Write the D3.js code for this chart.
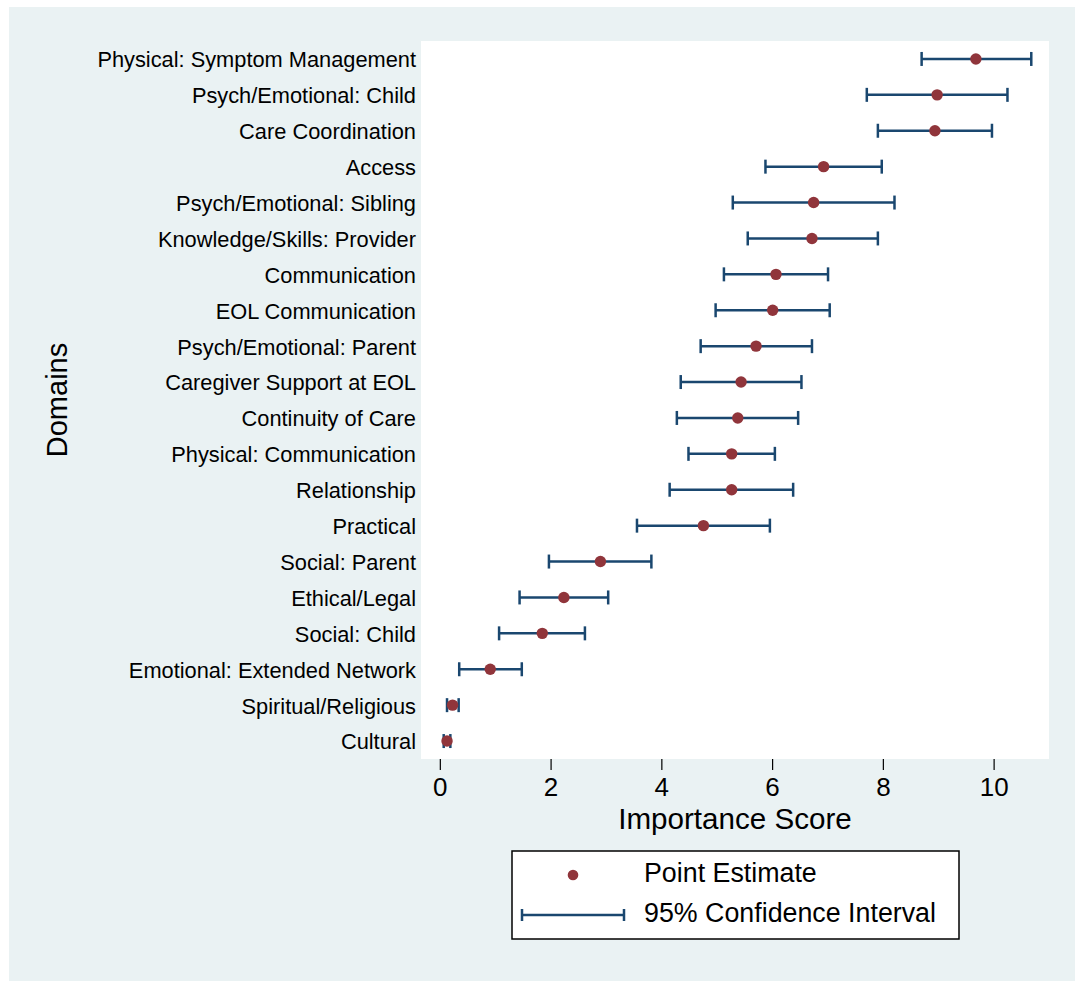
<!DOCTYPE html>
<html>
<head>
<meta charset="utf-8">
<script src="https://cdn.jsdelivr.net/npm/d3@7"></script>
<style>
  body { margin: 0; background: #fff; }
  svg text { font-family: "Liberation Sans", Arial, sans-serif; fill: #000; }
</style>
</head>
<body>
<svg id="chart" width="1075" height="981"></svg>
<script>
// domains, top to bottom
const domains = [
  "Physical: Symptom Management", "Psych/Emotional: Child", "Care Coordination",
  "Access", "Psych/Emotional: Sibling", "Knowledge/Skills: Provider",
  "Communication", "EOL Communication", "Psych/Emotional: Parent",
  "Caregiver Support at EOL", "Continuity of Care", "Physical: Communication",
  "Relationship", "Practical", "Social: Parent", "Ethical/Legal",
  "Social: Child", "Emotional: Extended Network", "Spiritual/Religious", "Cultural"
];
const estimates = [9.68, 8.98, 8.94, 6.93, 6.75, 6.72, 6.07, 6.01, 5.71, 5.44,
                   5.38, 5.27, 5.27, 4.76, 2.90, 2.24, 1.85, 0.91, 0.23, 0.13];
const ciLow  = [8.70, 7.71, 7.91, 5.88, 5.29, 5.56, 5.13, 4.98, 4.71, 4.35,
                4.28, 4.49, 4.15, 3.56, 1.97, 1.44, 1.07, 0.35, 0.13, 0.07];
const ciHigh = [10.68, 10.25, 9.97, 7.98, 8.21, 7.91, 7.01, 7.04, 6.72, 6.53,
                6.47, 6.05, 6.38, 5.96, 3.82, 3.04, 2.62, 1.48, 0.34, 0.19];
const xTicks = [0, 2, 4, 6, 8, 10];
const legendLabels = ["Point Estimate", "95% Confidence Interval"];

const rows = domains.map((d, i) => ({ name: d, est: estimates[i], lo: ciLow[i], hi: ciHigh[i] }));

const navy = "#1a476f";
const maroon = "#90353b";

const svg = d3.select("#chart");
const plot = { left: 421, right: 1049, top: 41, bottom: 759 };

// graph region background
svg.append("rect").attr("x", 9).attr("y", 7).attr("width", 1066).attr("height", 974)
  .attr("fill", "#eaf2f3");
svg.append("rect").attr("x", plot.left).attr("y", plot.top)
  .attr("width", plot.right - plot.left).attr("height", plot.bottom - plot.top)
  .attr("fill", "#fff");

const x = d3.scaleLinear().domain([-0.34, 11]).range([plot.left, plot.right]);
const y = d3.scalePoint().domain(domains).range([plot.top, plot.bottom]).padding(0.5);

// x axis: ticks + labels only
const xAxis = svg.append("g").attr("transform", `translate(0,${plot.bottom})`)
  .call(d3.axisBottom(x).tickValues(xTicks).tickSize(11).tickPadding(8).tickFormat(d3.format("d")));
xAxis.select(".domain").remove();
xAxis.selectAll(".tick line").attr("stroke", "#000").attr("stroke-width", 1.2);
xAxis.selectAll(".tick text").attr("font-size", 26).attr("fill", "#000")
  .style("font-family", '"Liberation Sans", Arial, sans-serif');

// y axis: labels only
const yAxis = svg.append("g").attr("transform", `translate(${plot.left},0)`)
  .call(d3.axisLeft(y).tickSize(0).tickPadding(5));
yAxis.select(".domain").remove();
yAxis.selectAll(".tick text").attr("font-size", 21.8).attr("fill", "#000")
  .attr("dy", "0.36em")
  .style("font-family", '"Liberation Sans", Arial, sans-serif');

// axis titles
svg.append("text").attr("x", (plot.left + plot.right) / 2).attr("y", 829)
  .attr("text-anchor", "middle").attr("font-size", 29.6).text("Importance Score");
svg.append("text").attr("transform", "translate(67,400) rotate(-90)")
  .attr("text-anchor", "middle").attr("font-size", 29).text("Domains");

// confidence intervals
const capH = 7;
const ci = svg.append("g").attr("stroke", navy).attr("stroke-width", 2.5).attr("fill", "none");
ci.selectAll("line.bar").data(rows).enter().append("line").attr("class", "bar")
  .attr("x1", d => x(d.lo)).attr("x2", d => x(d.hi))
  .attr("y1", d => y(d.name)).attr("y2", d => y(d.name));
ci.selectAll("line.capl").data(rows).enter().append("line").attr("class", "capl")
  .attr("x1", d => x(d.lo)).attr("x2", d => x(d.lo))
  .attr("y1", d => y(d.name) - capH).attr("y2", d => y(d.name) + capH);
ci.selectAll("line.caph").data(rows).enter().append("line").attr("class", "caph")
  .attr("x1", d => x(d.hi)).attr("x2", d => x(d.hi))
  .attr("y1", d => y(d.name) - capH).attr("y2", d => y(d.name) + capH);

// point estimates
svg.append("g").selectAll("circle").data(rows).enter().append("circle")
  .attr("cx", d => x(d.est)).attr("cy", d => y(d.name)).attr("r", 5.7)
  .attr("fill", maroon);

// legend
const lg = svg.append("g");
lg.append("rect").attr("x", 512).attr("y", 851).attr("width", 447).attr("height", 88)
  .attr("fill", "#fff").attr("stroke", "#000").attr("stroke-width", 1.5);
lg.append("circle").attr("cx", 573).attr("cy", 875).attr("r", 5.3).attr("fill", maroon);
const lgLine = lg.append("g").attr("stroke", navy).attr("stroke-width", 2.5);
lgLine.append("line").attr("x1", 522).attr("x2", 624).attr("y1", 915).attr("y2", 915);
lgLine.append("line").attr("x1", 522).attr("x2", 522).attr("y1", 909).attr("y2", 921);
lgLine.append("line").attr("x1", 624).attr("x2", 624).attr("y1", 909).attr("y2", 921);
lg.selectAll("text").data(legendLabels).enter().append("text")
  .attr("x", 644).attr("y", (d, i) => 882 + i * 40)
  .attr("font-size", 26.8).text(d => d);
</script>
</body>
</html>
